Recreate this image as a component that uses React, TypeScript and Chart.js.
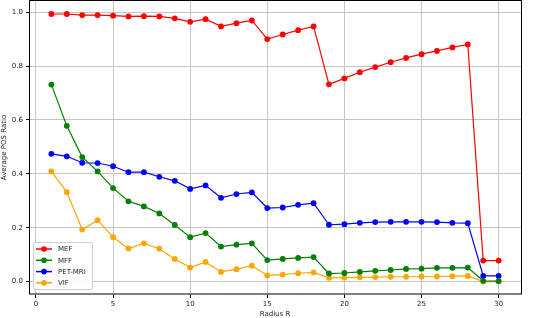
import React, { useEffect, useRef } from "react";
import { Chart, registerables } from "chart.js";

Chart.register(...registerables);

const radius = [1, 2, 3, 4, 5, 6, 7, 8, 9, 10, 11, 12, 13, 14, 15, 16, 17, 18, 19, 20, 21, 22, 23, 24, 25, 26, 27, 28, 29, 30];
const mef = [0.993, 0.993, 0.989, 0.989, 0.987, 0.984, 0.985, 0.984, 0.977, 0.964, 0.974, 0.947, 0.959, 0.969, 0.900, 0.917, 0.933, 0.947, 0.732, 0.754, 0.777, 0.796, 0.814, 0.830, 0.844, 0.856, 0.869, 0.880, 0.078, 0.078];
const mff = [0.731, 0.578, 0.462, 0.409, 0.347, 0.298, 0.279, 0.253, 0.210, 0.165, 0.180, 0.130, 0.137, 0.142, 0.080, 0.084, 0.088, 0.091, 0.030, 0.032, 0.036, 0.040, 0.043, 0.047, 0.048, 0.051, 0.051, 0.052, 0.003, 0.002];
const petMri = [0.474, 0.465, 0.441, 0.440, 0.428, 0.406, 0.406, 0.389, 0.374, 0.344, 0.357, 0.311, 0.325, 0.331, 0.273, 0.275, 0.285, 0.291, 0.211, 0.213, 0.218, 0.221, 0.222, 0.222, 0.222, 0.221, 0.218, 0.217, 0.021, 0.021];
const vif = [0.409, 0.332, 0.193, 0.228, 0.165, 0.123, 0.142, 0.122, 0.084, 0.052, 0.073, 0.036, 0.046, 0.059, 0.023, 0.026, 0.031, 0.034, 0.014, 0.015, 0.016, 0.017, 0.018, 0.018, 0.019, 0.019, 0.020, 0.021, 0.0, 0.0];

const seriesNames = ["MEF", "MFF", "PET-MRI", "VIF"];
const seriesColors = ["#ff0000", "#008000", "#0000ff", "#ffa500"];
const xTicks = [0, 5, 10, 15, 20, 25, 30];
const yTicks = [0.0, 0.2, 0.4, 0.6, 0.8, 1.0];

const FONT = "'DejaVu Sans', sans-serif";
const W = 546;
const H = 322; // canvas slightly taller; shifted up so the plot frame touches the page top
const SHIFT = 4;

const framePlugin = {
  id: "frameLegend",
  afterDraw(chart: any) {
    const { ctx, chartArea } = chart;
    const { left, right, top, bottom } = chartArea;
    ctx.save();
    ctx.strokeStyle = "#000";
    ctx.lineWidth = 1;
    const t = Math.round(top) + 0.5;
    ctx.strokeRect(Math.round(left) + 0.5, t, Math.round(right - left), Math.round(bottom) - 1 - t);

    // legend
    const bx = left + 4;
    const by = bottom - 53;
    const bw = 59;
    const bh = 47;
    ctx.fillStyle = "rgba(255,255,255,0.85)";
    ctx.strokeStyle = "#d0d0d0";
    ctx.lineWidth = 1;
    ctx.beginPath();
    if ((ctx as any).roundRect) (ctx as any).roundRect(bx + 0.5, by + 0.5, bw, bh, 2);
    else ctx.rect(bx + 0.5, by + 0.5, bw, bh);
    ctx.fill();
    ctx.stroke();
    ctx.font = `7px ${FONT}`;
    ctx.textBaseline = "middle";
    ctx.textAlign = "left";
    chart.data.datasets.forEach((ds: any, i: number) => {
      const y = by + 7 + i * 11.3;
      const x0 = bx + 3;
      ctx.strokeStyle = ds.borderColor;
      ctx.lineWidth = 1.5;
      ctx.beginPath();
      ctx.moveTo(x0, y);
      ctx.lineTo(x0 + 16, y);
      ctx.stroke();
      ctx.fillStyle = ds.borderColor;
      ctx.beginPath();
      ctx.arc(x0 + 8, y, 2.8, 0, Math.PI * 2);
      ctx.fill();
      ctx.fillStyle = "#222";
      ctx.fillText(ds.label, x0 + 22, y + 0.5);
    });
    ctx.restore();
  },
};

export default function App() {
  const ref = useRef<HTMLCanvasElement | null>(null);
  useEffect(() => {
    document.body.style.margin = "0";
    const all = [mef, mff, petMri, vif];
    const chart = new Chart(ref.current!, {
      type: "line",
      data: {
        datasets: all.map((vals, i) => ({
          label: seriesNames[i],
          data: radius.map((r, j) => ({ x: r, y: vals[j] })),
          borderColor: seriesColors[i],
          backgroundColor: seriesColors[i],
          borderWidth: 1.2,
          pointRadius: 2.9,
          pointBorderWidth: 0,
          pointBackgroundColor: seriesColors[i],
          tension: 0,
        })),
      },
      options: {
        responsive: false,
        animation: false,
        events: [],
        layout: { padding: { top: 0, right: 25, left: 0, bottom: 0 } },
        plugins: { legend: { display: false }, tooltip: { enabled: false } },
        scales: {
          x: {
            type: "linear",
            min: -0.45,
            max: 31.45,
            afterBuildTicks: (s: any) => {
              s.ticks = xTicks.map((v) => ({ value: v }));
            },
            afterFit: (s: any) => {
              s.height = 23;
              s.paddingLeft = 0;
              s.paddingRight = 0;
            },
            grid: { color: "#c4c4c4", lineWidth: 1, tickColor: "#000", tickLength: 3, drawTicks: true },
            border: { display: false },
            ticks: {
              font: { family: FONT, size: 7 },
              color: "#222",
              padding: 2,
              maxRotation: 0,
              callback: (v: any) => String(v),
            },
            title: { display: true, text: "Radius R", font: { family: FONT, size: 7 }, color: "#222", padding: { top: 0, bottom: 0 } },
          },
          y: {
            type: "linear",
            min: -0.0497,
            max: 1.045,
            afterBuildTicks: (s: any) => {
              s.ticks = yTicks.map((v) => ({ value: v }));
            },
            afterFit: (s: any) => {
              s.width = 29;
              s.paddingTop = 0;
              s.paddingBottom = 0;
            },
            grid: { color: "#c4c4c4", lineWidth: 1, tickColor: "#000", tickLength: 3, drawTicks: true },
            border: { display: false },
            ticks: {
              font: { family: FONT, size: 7 },
              color: "#222",
              padding: 3,
              callback: (v: any) => Number(v).toFixed(1),
            },
            title: { display: true, text: "Average POS Ratio", font: { family: FONT, size: 7 }, color: "#222", padding: { top: 0, bottom: 2 } },
          },
        },
      },
      plugins: [framePlugin],
    } as any);
    return () => chart.destroy();
  }, []);
  return (
    <div style={{ position: "absolute", left: 0, top: 0, width: 546, height: 318, background: "#fff", overflow: "hidden" }}>
      <canvas
        ref={ref}
        width={W}
        height={H}
        style={{ position: "absolute", left: 0, top: -SHIFT, width: W, height: H, display: "block" }}
      />
    </div>
  );
}
